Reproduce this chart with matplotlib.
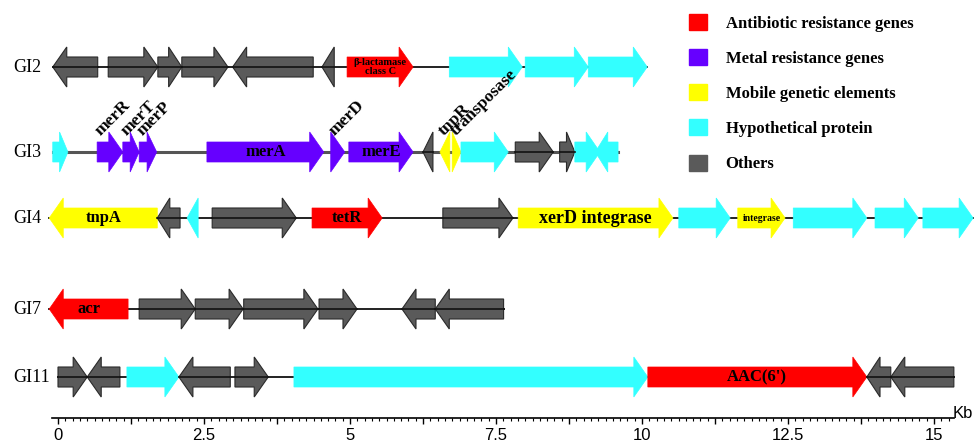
import matplotlib
matplotlib.use('Agg')
import matplotlib.pyplot as plt
from matplotlib.patches import Polygon, Patch
from matplotlib.ticker import FixedLocator, FuncFormatter
import numpy as np

# ---- data ----
islands = ['GI2', 'GI3', 'GI4', 'GI7', 'GI11']

cat_names = ['Antibiotic resistance genes', 'Metal resistance genes',
             'Mobile genetic elements', 'Hypothetical protein', 'Others']
cat_keys = ['abr', 'metal', 'mobile', 'hypo', 'other']
cat_colors = ['#ff0000', '#6600ff', '#ffff00', '#33ffff', '#5a5a5a']

# gene = (start kb, end kb, strand, category, label inside, label above)
gi2 = [
    (-0.09, 0.68, -1, 'other', '', ''),
    (0.86, 1.71, 1, 'other', '', ''),
    (1.71, 2.12, 1, 'other', '', ''),
    (2.12, 2.91, 1, 'other', '', ''),
    (2.99, 4.37, -1, 'other', '', ''),
    (4.52, 4.73, -1, 'other', '', ''),
    (4.95, 6.08, 1, 'abr', 'β-lactamase\nclass C', ''),
    (6.70, 7.95, 1, 'hypo', '', ''),
    (8.00, 9.08, 1, 'hypo', '', ''),
    (9.08, 10.09, 1, 'hypo', '', ''),
]
gi3 = [
    (-0.09, 0.17, 1, 'hypo', '', ''),
    (0.67, 1.11, 1, 'metal', '', 'merR'),
    (1.11, 1.39, 1, 'metal', '', 'merT'),
    (1.39, 1.69, 1, 'metal', '', 'merP'),
    (2.55, 4.55, 1, 'metal', 'merA', ''),
    (4.67, 4.91, 1, 'metal', '', 'merD'),
    (4.98, 6.08, 1, 'metal', 'merE', ''),
    (6.25, 6.42, -1, 'other', '', ''),
    (6.54, 6.71, -1, 'mobile', '', 'tnpR'),
    (6.75, 6.90, 1, 'mobile', '', 'transposase'),
    (6.90, 7.71, 1, 'hypo', '', ''),
    (7.83, 8.48, 1, 'other', '', ''),
    (8.59, 8.85, 1, 'other', '', ''),
    (8.85, 9.28, 1, 'hypo', '', ''),
    (9.20, 9.59, -1, 'hypo', '', ''),
]
gi4 = [
    (-0.15, 1.70, -1, 'mobile', 'tnpA', ''),
    (1.70, 2.09, -1, 'other', '', ''),
    (2.21, 2.40, -1, 'hypo', '', ''),
    (2.64, 4.08, 1, 'other', '', ''),
    (4.35, 5.55, 1, 'abr', 'tetR', ''),
    (6.59, 7.79, 1, 'other', '', ''),
    (7.88, 10.53, 1, 'mobile', 'xerD integrase', ''),
    (10.63, 11.51, 1, 'hypo', '', ''),
    (11.64, 12.45, 1, 'mobile', 'integrase', ''),
    (12.59, 13.85, 1, 'hypo', '', ''),
    (13.99, 14.73, 1, 'hypo', '', ''),
    (14.81, 15.67, 1, 'hypo', '', ''),
]
gi7 = [
    (-0.15, 1.20, -1, 'abr', 'acr', ''),
    (1.39, 2.35, 1, 'other', '', ''),
    (2.35, 3.17, 1, 'other', '', ''),
    (3.18, 4.45, 1, 'other', '', ''),
    (4.47, 5.12, 1, 'other', '', ''),
    (5.89, 6.46, -1, 'other', '', ''),
    (6.46, 7.63, -1, 'other', '', ''),
]
gi11 = [
    (0.00, 0.50, 1, 'other', '', ''),
    (0.50, 1.06, -1, 'other', '', ''),
    (1.18, 2.07, 1, 'hypo', '', ''),
    (2.07, 2.95, -1, 'other', '', ''),
    (3.03, 3.60, 1, 'other', '', ''),
    (4.04, 10.10, 1, 'hypo', '', ''),
    (10.10, 13.85, 1, 'abr', "AAC(6')", ''),
    (13.85, 14.26, -1, 'other', '', ''),
    (14.26, 15.34, -1, 'other', '', ''),
]
all_genes = [gi2, gi3, gi4, gi7, gi11]

# ---- layout (pixel rows, y axis is in pixels) ----
row_y = [67, 152, 218, 309, 377]
px_per_kb = 58.4
x0_px = 58
W, H = 975, 444
serif = 'Liberation Serif'
sans = ['Liberation Sans', 'DejaVu Sans']
label_size = {'xerD integrase': 13, 'integrase': 7, 'β-lactamase\nclass C': 7.5}
col = dict(zip(cat_keys, cat_colors))


def draw_gene(ax, y, start, end, strand, cat):
    L = end - start
    hl = L if L < 0.245 else min(0.24, 0.55 * L)
    bh, hh = 10, 20
    if strand > 0:
        xb = end - hl
        pts = [(start, y - bh), (xb, y - bh), (xb, y - hh), (end, y),
               (xb, y + hh), (xb, y + bh), (start, y + bh)]
    else:
        xb = start + hl
        pts = [(end, y - bh), (xb, y - bh), (xb, y - hh), (start, y),
               (xb, y + hh), (xb, y + bh), (end, y + bh)]
    if cat == 'other':
        ax.add_patch(Polygon(pts, closed=True, facecolor=col[cat],
                             edgecolor='#2a2a2a', lw=0.8, zorder=2))
        ax.plot([start, end], [y, y], color='#111111', lw=1.2, zorder=3)
    else:
        ax.add_patch(Polygon(pts, closed=True, facecolor=col[cat],
                             edgecolor=col[cat], lw=0.5, zorder=2))


fig = plt.figure(figsize=(W / 100, H / 100), dpi=100)
ax = fig.add_axes([0, 0, 1, 1])
ax.set_xlim(-x0_px / px_per_kb, (W - x0_px) / px_per_kb)
ax.set_ylim(H, 0)
ax.axis('off')

for name, genes, y in zip(islands, all_genes, row_y):
    lo = min(g[0] for g in genes)
    hi = max(g[1] for g in genes)
    if name == 'GI3':
        ax.plot([lo, hi], [y, y], color='#555555', lw=2.2, zorder=1)
    else:
        ax.plot([lo, hi], [y, y], color='#111111', lw=1.3, zorder=1)
    for start, end, strand, cat, lab, top in genes:
        draw_gene(ax, y, start, end, strand, cat)
        if lab:
            ax.text((start + end) / 2, y, lab, ha='center', va='center',
                    fontsize=label_size.get(lab, 12), fontweight='bold',
                    family=serif, zorder=4, linespacing=1.0)
        if top:
            ax.text(start + 0.06, y - 16, top, rotation=45, rotation_mode='anchor',
                    ha='left', va='baseline', fontsize=12.5, fontweight='bold',
                    family=serif, zorder=4)
    ax.text((13 - x0_px) / px_per_kb, y, name, ha='left', va='center',
            fontsize=13, family=serif)

# ---- scale bar ----
sax = fig.add_axes([0, 1 - 418 / H, 1, 0.0005])
sax.set_xlim(ax.get_xlim())
sax.patch.set_visible(False)
for s in ['left', 'right', 'top']:
    sax.spines[s].set_visible(False)
sax.spines['bottom'].set_bounds(-0.1, 15.35)
sax.spines['bottom'].set_linewidth(1.2)
sax.set_yticks([])
sax.xaxis.set_major_locator(FixedLocator(np.arange(0, 15.1, 1.25)))
sax.xaxis.set_minor_locator(FixedLocator(np.arange(0, 15.3, 0.125)))
sax.xaxis.set_major_formatter(FuncFormatter(
    lambda v, p: ('%g' % v) if abs(v / 2.5 - round(v / 2.5)) < 1e-6 else ''))
sax.tick_params(axis='x', which='major', length=4.5, width=1, pad=3, labelsize=12)
sax.tick_params(axis='x', which='minor', length=2.2, width=0.8)
for t in sax.get_xticklabels():
    t.set_family(sans)
ax.text((953 - x0_px) / px_per_kb, 413, 'Kb', ha='left', va='center',
        fontsize=12, family=sans)

# ---- legend ----
handles = [Patch(facecolor=c, edgecolor=c) for c in cat_colors]
fig.legend(handles, cat_names, loc='upper left',
           bbox_to_anchor=(689 / W, 1 - 14 / H), frameon=False,
           prop={'family': serif, 'weight': 'bold', 'size': 12},
           handlelength=1.1, handleheight=1.1, handletextpad=1.1,
           labelspacing=1.05, borderpad=0, borderaxespad=0)

fig.savefig('out.png', dpi=100)
